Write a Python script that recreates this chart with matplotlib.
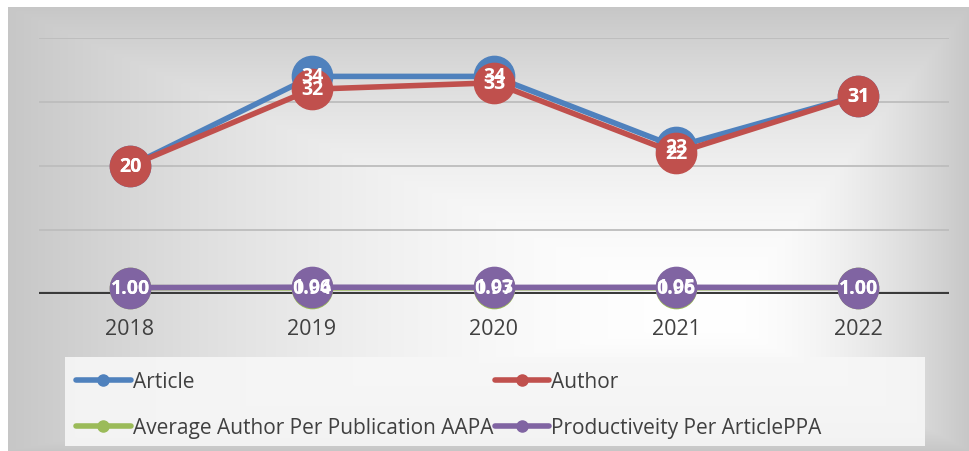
import matplotlib.pyplot as plt
import numpy as np
from matplotlib.lines import Line2D
from matplotlib.patches import Rectangle

years = ["2018", "2019", "2020", "2021", "2022"]
article = [20, 34, 34, 23, 31]
author = [20, 32, 33, 22, 31]
aapa = [1.00, 0.94, 0.97, 0.96, 1.00]
ppa = [1.00, 1.06, 1.03, 1.05, 1.00]

series = [
    ("Article", article, "#4f81bd", "{:.0f}"),
    ("Author", author, "#c0504d", "{:.0f}"),
    ("Average Author Per Publication AAPA", aapa, "#9bbb59", "{:.2f}"),
    ("Productiveity Per ArticlePPA", ppa, "#8064a2", "{:.2f}"),
]

plt.rcParams['font.family'] = ['Open Sans', 'DejaVu Sans']

W, H = 970, 452
fig = plt.figure(figsize=(W / 100, H / 100), dpi=100)
fig.patch.set_facecolor("white")

# background gradient (rectangular path, light centre, grey edges)
bg = fig.add_axes([8 / W, 0, (W - 8) / W, (H - 8) / H])
bg.set_axis_off()
xs = np.linspace(8, W, 600)
ys = np.linspace(8, H, 300)
X, Y = np.meshgrid(xs, ys)
cx, cy = 720, 320
dx = np.where(X < cx, (cx - X) / (cx - 8), (X - cx) / (W - cx))
dy = np.where(Y < cy, (cy - Y) / (cy - 8), (Y - cy) / (H - cy))
d = np.clip(np.maximum(dx, dy), 0, 1) ** 1.8
g = 1.0 - 0.22 * d
img = np.dstack([g, g, g])
bg.imshow(img, extent=[0, 1, 0, 1], aspect="auto", origin="upper")
bg.set_xlim(0, 1)
bg.set_ylim(0, 1)

# legend panel
fig.patches.append(Rectangle((65 / W, 5 / H), 860 / W, 89 / H,
                             transform=fig.transFigure, facecolor="#f7f7f7",
                             edgecolor="none", alpha=0.9, zorder=0))

ax = fig.add_axes([39 / W, (H - 295) / H, 910 / W, 256 / H])
ax.patch.set_alpha(0)
x = np.arange(len(years))

for yv in [10, 20, 30, 40]:
    ax.axhline(yv, color="#bdbdbd", lw=1.3, zorder=1)
ax.axhline(0, color="#3a3a3a", lw=3, zorder=2)

z = 3
for name, vals, col, fmt in series:
    ax.plot(x, vals, color=col, lw=4, marker="o", markersize=29,
            solid_capstyle="round", zorder=z, clip_on=False)
    z += 1
for name, vals, col, fmt in series:
    for xi, v in zip(x, vals):
        ax.text(xi, v, fmt.format(v), color="white", fontsize=14,
                fontweight="bold", ha="center", va="center", zorder=10)

ax.set_xlim(-0.5, 4.5)
ax.set_ylim(0, 40)
ax.set_xticks(x)
ax.set_xticklabels(years, fontsize=15.5, color="#404040")
ax.set_yticks([])
ax.tick_params(axis="x", length=0, pad=17)
for s in ax.spines.values():
    s.set_visible(False)

# legend is filled row by row in the reference
order = [0, 2, 1, 3]
handles = [Line2D([0], [0], color=series[i][2], lw=4, marker="o",
                  markersize=8, solid_capstyle="round") for i in order]
labels = [series[i][0] for i in order]
leg = fig.legend(handles, labels, ncol=2,
                 bbox_to_anchor=(67 / W, 89 / H),
                 loc="upper left", fontsize=15, handlelength=2.6,
                 handletextpad=0.1, borderaxespad=0, borderpad=0.45,
                 columnspacing=0.1, frameon=False, labelspacing=1.2,
                 labelcolor="#404040")

fig.savefig("out.png", dpi=100)
